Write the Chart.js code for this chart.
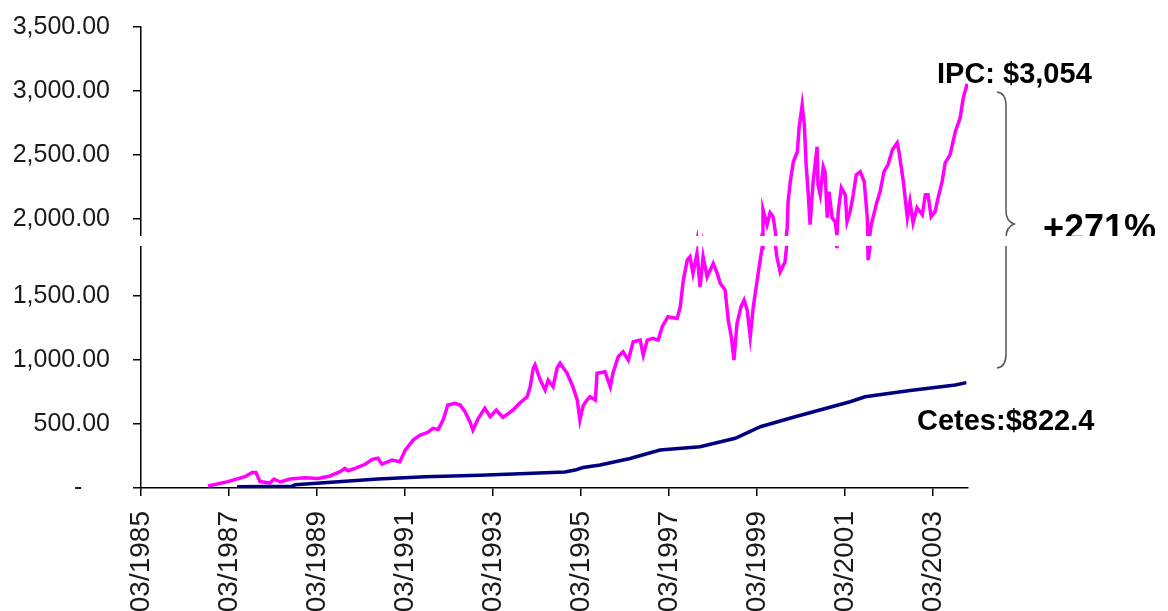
<!DOCTYPE html>
<html>
<head>
<meta charset="utf-8">
<script src="https://cdn.jsdelivr.net/npm/chart.js@4.4.1/dist/chart.umd.min.js"></script>
<style>
  html, body { margin: 0; padding: 0; background: #fff; }
  .part { position: absolute; left: 0; width: 1168px; overflow: hidden; }
  #topPart { top: 0; height: 236px; }
  #botPart { top: 246px; height: 365px; }
  #botPart canvas { position: absolute; left: 0; top: -246px; }
</style>
</head>
<body>
<div class="part" id="topPart"><canvas id="topChart" width="1168" height="611"></canvas></div>
<div class="part" id="botPart"><canvas id="botChart" width="1168" height="611"></canvas></div>
<script>
// x values are decimal years, tick labels are month/year
const xTickLabels = ['03/1985', '03/1987', '03/1989', '03/1991', '03/1993', '03/1995', '03/1997', '03/1999', '03/2001', '03/2003'];
const yTicksTop = [2000, 2500, 3000, 3500];
const yTicksBottom = [0, 500, 1000, 1500];

const ipcYears = [
  1986.69, 1987.14, 1987.53, 1987.69, 1987.78, 1987.87, 1988.10, 1988.19, 1988.33, 1988.55,
  1988.89, 1989.19, 1989.46, 1989.69, 1989.80, 1989.87, 1990.03, 1990.26, 1990.42, 1990.55,
  1990.64, 1990.87, 1991.05, 1991.17, 1991.35, 1991.51, 1991.67, 1991.80, 1991.92, 1992.03,
  1992.14, 1992.30, 1992.42, 1992.53, 1992.64, 1992.71, 1992.83, 1992.98, 1993.10, 1993.24,
  1993.39, 1993.62, 1993.78, 1993.94, 1994.01, 1994.08, 1994.12, 1994.24, 1994.35, 1994.42,
  1994.53, 1994.62, 1994.69, 1994.85, 1994.98, 1995.08, 1995.14, 1995.21, 1995.30, 1995.37,
  1995.49, 1995.53, 1995.71, 1995.83, 1995.89, 1996.01, 1996.12, 1996.24, 1996.35, 1996.51,
  1996.58, 1996.67, 1996.80, 1996.92, 1997.01, 1997.14, 1997.35, 1997.42, 1997.49, 1997.58,
  1997.64, 1997.71, 1997.80, 1997.87, 1997.94, 1998.03, 1998.17, 1998.26, 1998.33, 1998.44,
  1998.51, 1998.58, 1998.64, 1998.71, 1998.80, 1998.87, 1998.94, 1999.01, 1999.08, 1999.19,
  1999.28, 1999.30, 1999.39, 1999.46, 1999.53, 1999.58, 1999.62, 1999.69, 1999.80, 1999.85,
  1999.87, 1999.92, 1999.99, 2000.08, 2000.12, 2000.19, 2000.24, 2000.28, 2000.33, 2000.37,
  2000.44, 2000.53, 2000.55, 2000.60, 2000.67, 2000.71, 2000.76, 2000.80, 2000.87, 2000.94,
  2000.98, 2001.01, 2001.08, 2001.17, 2001.21, 2001.28, 2001.35, 2001.42, 2001.51, 2001.60,
  2001.67, 2001.69, 2001.76, 2001.80, 2001.89, 2001.96, 2002.05, 2002.14, 2002.24, 2002.35,
  2002.39, 2002.49, 2002.53, 2002.58, 2002.64, 2002.71, 2002.80, 2002.92, 2002.99, 2003.05,
  2003.12, 2003.21, 2003.28, 2003.37, 2003.44, 2003.55, 2003.67, 2003.78, 2003.85, 2003.94
];
const ipcValues = [
  15, 50, 88, 120, 120, 50, 40, 70, 47, 70,
  80, 75, 94, 127, 153, 135, 153, 185, 224, 232,
  187, 218, 205, 296, 374, 413, 431, 466, 457, 530,
  647, 661, 647, 595, 517, 452, 543, 622, 556, 608,
  551, 608, 665, 712, 790, 934, 960, 842, 764, 842,
  790, 934, 973, 895, 790, 686, 530, 640, 686, 712,
  686, 895, 907, 790, 895, 1024, 1063, 998, 1141, 1154,
  1037, 1154, 1168, 1154, 1258, 1336, 1323, 1414, 1622, 1778,
  1804, 1674, 1830, 1570, 1804, 1648, 1752, 1674, 1596, 1544,
  1310, 1180, 998, 1284, 1414, 1466, 1388, 1180, 1414, 1674,
  1875, 2070, 1953, 2047, 2016, 1899, 1794, 1685, 1763, 1930,
  2133, 2289, 2445, 2523, 2710, 2889, 2733, 2421, 2187, 1953,
  2289, 2562, 2265, 2187, 2406, 2367, 2008, 2211, 2008, 1977,
  1872, 2055, 2242, 2187, 1977, 2055, 2187, 2343, 2367, 2289,
  2008, 1778, 1953, 2008, 2133, 2211, 2367, 2421, 2538, 2593,
  2523, 2289, 2164, 2008, 2133, 1969, 2086, 2031, 2187, 2187,
  2016, 2055, 2164, 2289, 2437, 2499, 2679, 2788, 2944, 3054
];

const cetesYears = [
  1987.35, 1988.60, 1988.67, 1989.73, 1990.55, 1991.62, 1992.87, 1993.92, 1994.80, 1995.03,
  1995.21, 1995.60, 1996.28, 1996.96, 1997.87, 1998.67, 1999.24, 2000.03, 2001.28, 2001.62,
  2002.64, 2003.67, 2003.92
];
const cetesValues = [
  10, 14, 25, 50, 70, 88, 100, 114, 125, 140,
  160, 180, 230, 296, 322, 388, 478, 556, 673, 712,
  760, 803, 822.4
];

const xMin = 1985 + 2 / 12;
const xMax = xMin + 225.5 / 12;
const labelFont = { family: 'Liberation Sans, Arial, sans-serif', size: 25 };

function toPoints(xs, ys) {
  return xs.map((x, i) => ({ x: x, y: ys[i] }));
}

function fmtY(v) {
  if (v === 0) return '-    ';
  return v.toLocaleString('en-US', { minimumFractionDigits: 2, maximumFractionDigits: 2 });
}

const notes = {
  id: 'notes',
  afterDraw(chart) {
    const ctx = chart.ctx;
    ctx.save();
    ctx.fillStyle = '#000';
    ctx.textAlign = 'left';
    ctx.textBaseline = 'alphabetic';
    ctx.font = 'bold 29px "Liberation Sans", Arial, sans-serif';
    ctx.fillText('IPC: $3,054', 937, 83);
    ctx.fillText('Cetes:$822.4', 917, 430);
    ctx.font = 'bold 36px "Liberation Sans", Arial, sans-serif';
    ctx.fillText('+271%', 1043, 240);

    ctx.strokeStyle = '#555';
    ctx.lineWidth = 1.5;
    ctx.beginPath();
    ctx.moveTo(997, 92);
    ctx.quadraticCurveTo(1006, 93, 1006, 106);
    ctx.lineTo(1006, 211);
    ctx.quadraticCurveTo(1006, 221, 1014, 224);
    ctx.quadraticCurveTo(1006, 227, 1006, 238);
    ctx.lineTo(1006, 354);
    ctx.quadraticCurveTo(1006, 367, 997, 368);
    ctx.stroke();
    ctx.restore();
  }
};

function makeChart(canvas, yMin, yMax, yTicks, showX, pad) {
  return new Chart(canvas.getContext('2d'), {
    type: 'line',
    data: {
      datasets: [
        {
          label: 'Cetes',
          data: toPoints(cetesYears, cetesValues),
          borderColor: '#000080',
          borderWidth: 3.5,
          pointRadius: 0,
          tension: 0
        },
        {
          label: 'IPC',
          data: toPoints(ipcYears, ipcValues),
          borderColor: '#ff00ff',
          borderWidth: 3.5,
          pointRadius: 0,
          tension: 0
        }
      ]
    },
    options: {
      responsive: false,
      animation: false,
      layout: { padding: pad },
      plugins: { legend: { display: false }, tooltip: { enabled: false } },
      scales: {
        x: {
          type: 'linear',
          display: showX,
          min: xMin,
          max: xMax,
          afterBuildTicks: s => { s.ticks = xTickLabels.map(l => ({ value: +l.slice(3) + 2 / 12 })); },
          afterFit: s => {
            s.height = showX ? 611 - 488 : 0;
            s.paddingLeft = 0;
            s.paddingRight = 0;
          },
          border: { color: '#000', width: 1.5 },
          grid: { drawOnChartArea: false, drawTicks: true, tickLength: 8, color: '#000', lineWidth: 1.5 },
          ticks: {
            autoSkip: false,
            minRotation: 90,
            maxRotation: 90,
            padding: 15,
            color: '#1a1a1a',
            font: { family: labelFont.family, size: 28 },
            callback: v => '03/' + Math.round(v - 2 / 12)
          }
        },
        y: {
          min: yMin,
          max: yMax,
          afterBuildTicks: s => { s.ticks = yTicks.map(v => ({ value: v })); },
          afterFit: s => {
            s.width = 141;
            s.paddingTop = 0;
            s.paddingBottom = 0;
          },
          border: { color: '#000', width: 1.5 },
          grid: { drawOnChartArea: false, drawTicks: true, tickLength: 8, color: '#000', lineWidth: 1.5 },
          ticks: {
            padding: 23,
            color: '#1a1a1a',
            font: labelFont,
            callback: v => fmtY(v)
          }
        }
      }
    },
    plugins: [notes]
  });
}

makeChart(document.getElementById('topChart'), 1865, 3500, yTicksTop, false,
  { top: 26.7, bottom: 611 - 236, left: 0, right: 200 });
makeChart(document.getElementById('botChart'), 0, 1888, yTicksBottom, true,
  { top: 246, bottom: 0, left: 0, right: 200 });
</script>
</body>
</html>
